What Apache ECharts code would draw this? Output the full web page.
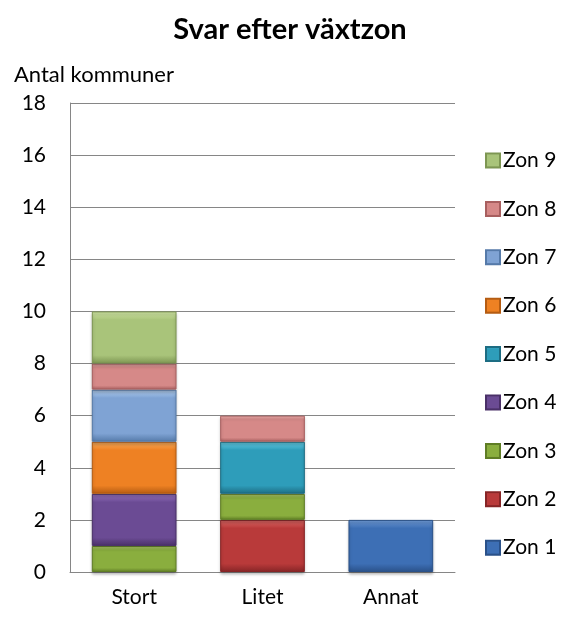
<!DOCTYPE html>
<html>
<head>
<meta charset="UTF-8">
<title>Svar efter växtzon</title>
<script src="https://cdn.jsdelivr.net/npm/echarts@6/dist/echarts.min.js"></script>
<style>
  html, body { margin: 0; padding: 0; background: #fff; }
  #chart { width: 571px; height: 626px; }
</style>
</head>
<body>
<div id="chart"></div>
<script>
var categories = ['Stort', 'Litet', 'Annat'];
var zones = ['Zon 1', 'Zon 2', 'Zon 3', 'Zon 4', 'Zon 5', 'Zon 6', 'Zon 7', 'Zon 8', 'Zon 9'];
// values per zone, in category order (Stort, Litet, Annat)
var zon1 = [0, 0, 2];
var zon2 = [0, 2, 0];
var zon3 = [1, 1, 0];
var zon4 = [2, 0, 0];
var zon5 = [0, 2, 0];
var zon6 = [2, 0, 0];
var zon7 = [2, 0, 0];
var zon8 = [1, 1, 0];
var zon9 = [2, 0, 0];
var zoneValues = [zon1, zon2, zon3, zon4, zon5, zon6, zon7, zon8, zon9];
var yTicks = [0, 2, 4, 6, 8, 10, 12, 14, 16, 18];

// [light, base, dark] for the bevelled look
var palette = [
    ['#6f9ad6', '#3d6fb5', '#2a5189'],
    ['#e06a68', '#b93a3a', '#862526'],
    ['#c3e07a', '#8aae3e', '#5f7d25'],
    ['#9a77c6', '#6b4b94', '#4a3068'],
    ['#6bd3ec', '#2e9dba', '#1d6d83'],
    ['#fbb061', '#ee8123', '#b55c12'],
    ['#b5d2f2', '#7fa3d4', '#557aa9'],
    ['#f2b2b0', '#d68988', '#a85f5f'],
    ['#d1e6a6', '#a9c47a', '#7d9652']
];

function fill(c) {
    return new echarts.graphic.LinearGradient(0, 0, 0, 1, [
        {offset: 0, color: c[0]},
        {offset: 0.16, color: c[1]},
        {offset: 0.84, color: c[1]},
        {offset: 1, color: c[2]}
    ]);
}

var font = 'Lato, "Open Sans", sans-serif';
var myChart = echarts.init(document.getElementById('chart'));

var series = zones.map(function (name, i) {
    return {
        name: name,
        type: 'bar',
        stack: 'total',
        barWidth: '66%',
        itemStyle: {
            color: fill(palette[i]),
            borderColor: palette[i][2],
            borderWidth: 1,
            shadowColor: 'rgba(0,0,0,0.25)',
            shadowBlur: 3,
            shadowOffsetY: 2
        },
        data: zoneValues[i].map(function (v) { return v === 0 ? '-' : v; })
    };
});

var option = {
    animation: false,
    title: {
        text: 'Svar efter växtzon',
        left: 285,
        textAlign: 'center',
        top: 10,
        textStyle: {fontFamily: font, fontWeight: 'bold', fontSize: 29, color: '#000'}
    },
    legend: {
        orient: 'vertical',
        left: 480,
        top: 145,
        icon: 'rect',
        itemWidth: 14,
        itemHeight: 14,
        itemGap: 27.4,
        data: zones.slice().reverse(),
        itemStyle: {shadowBlur: 0, shadowOffsetY: 0},
        textStyle: {fontFamily: font, fontSize: 21, lineHeight: 21, color: '#000', padding: [0, 0, 0, -2]}
    },
    grid: {left: 70, right: 116, top: 103, bottom: 54},
    xAxis: {
        type: 'category',
        data: categories,
        axisLine: {lineStyle: {color: '#868686'}},
        axisTick: {show: false},
        axisLabel: {fontFamily: font, fontSize: 21, color: '#000', margin: 15}
    },
    yAxis: {
        type: 'value',
        min: yTicks[0],
        max: yTicks[yTicks.length - 1],
        interval: 2,
        name: 'Antal kommuner',
        nameLocation: 'end',
        nameGap: 17,
        nameTextStyle: {fontFamily: font, fontSize: 22, color: '#000', align: 'left', padding: [0, 0, 0, -56]},
        axisLine: {show: true, lineStyle: {color: '#868686'}},
        axisTick: {show: false},
        splitLine: {lineStyle: {color: '#868686'}},
        axisLabel: {fontFamily: font, fontSize: 21, color: '#000', margin: 24}
    },
    series: series
};
myChart.setOption(option);
</script>
</body>
</html>
